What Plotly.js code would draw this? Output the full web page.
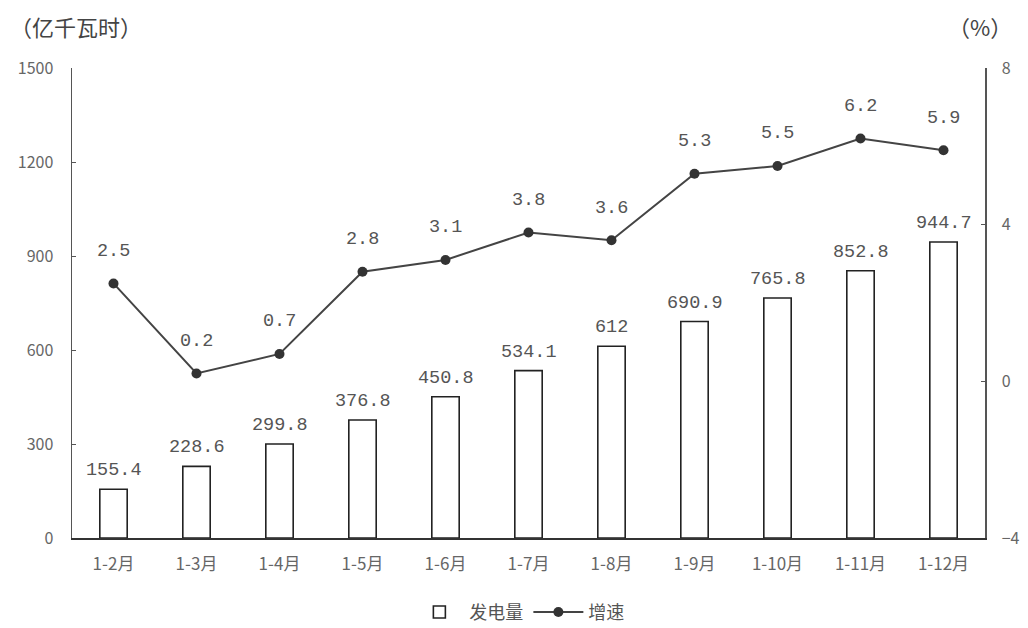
<!DOCTYPE html>
<html><head><meta charset="utf-8">
<script src="https://cdn.plot.ly/plotly-3.0.1.min.js"></script>
<style>body{margin:0;background:#fff}#c{width:1028px;height:628px}</style>
</head><body><div id="c"></div>
<script>
var categories = ["1-2月","1-3月","1-4月","1-5月","1-6月","1-7月","1-8月","1-9月","1-10月","1-11月","1-12月"];
var generation = [155.4,228.6,299.8,376.8,450.8,534.1,612,690.9,765.8,852.8,944.7];
var growth = [2.5,0.2,0.7,2.8,3.1,3.8,3.6,5.3,5.5,6.2,5.9];
var leftTicks = [0,300,600,900,1200,1500];
var rightTicks = [-4,0,4,8];

var tickFont = {family:"Noto Sans CJK SC, sans-serif", size:16, color:"#666"};
var labFont = {family:"Liberation Mono, DejaVu Sans Mono, monospace", size:18.5, color:"#555"};

var traces = [
  {type:"bar", name:"发电量", x:categories, y:generation, width:0.33,
   marker:{color:"#fff", line:{color:"#222", width:1.6}}, yaxis:"y"},
  {type:"scatter", mode:"lines+markers", name:"增速", x:categories, y:growth, yaxis:"y2",
   line:{color:"#444", width:2}, marker:{color:"#333", size:10}}
];

var ann = [];
categories.forEach(function(c,i){
  ann.push({x:c, y:generation[i], xref:"x", yref:"y", text:String(generation[i]), showarrow:false,
    yanchor:"bottom", yshift:6, font:labFont});
  ann.push({x:c, y:growth[i], xref:"x", yref:"y2", text:growth[i].toFixed(1), showarrow:false,
    yanchor:"middle", yshift:32, font:labFont});
});
ann.push({xref:"paper", yref:"paper", x:-0.07, y:1.09, xanchor:"left", yanchor:"middle",
  text:"（亿千瓦时）", showarrow:false, font:{family:"Noto Sans CJK SC", size:22, color:"#444"}});
ann.push({xref:"paper", yref:"paper", x:0.994, y:1.09, xanchor:"center", yanchor:"middle",
  text:"（%）", showarrow:false, font:{family:"Noto Sans CJK SC", size:22, color:"#444"}});

var layout = {
  width:1028, height:628,
  margin:{l:72, r:43, t:68, b:90},
  paper_bgcolor:"#fff", plot_bgcolor:"#fff",
  showlegend:true,
  legend:{orientation:"h", x:0.49, xanchor:"center", yref:"container", y:0.025, yanchor:"middle",
    itemwidth:50, font:{family:"Noto Sans CJK SC", size:18, color:"#555"}},
  xaxis:{range:[-0.5,10.5], showline:true, linecolor:"#333", linewidth:1.5, ticks:"",
    tickfont:{family:"Noto Sans CJK SC, sans-serif", size:17, color:"#666"}, ticklabelstandoff:10,
    showgrid:false, zeroline:false, automargin:false},
  yaxis:{range:[0,1500], tickvals:leftTicks, showline:true, linecolor:"#555", linewidth:1.5,
    ticks:"inside", ticklen:4, tickcolor:"#555", tickfont:tickFont, showgrid:false, zeroline:false,
    ticklabelstandoff:14, automargin:false},
  yaxis2:{range:[-4,8], tickvals:rightTicks, overlaying:"y", side:"right", showline:true,
    linecolor:"#555", linewidth:1.5, ticks:"inside", ticklen:4, tickcolor:"#555",
    tickfont:tickFont, showgrid:false, zeroline:false, ticklabelstandoff:12, automargin:false},
  annotations:ann
};
Plotly.newPlot("c", traces, layout, {displayModeBar:false, staticPlot:true});
</script></body></html>
